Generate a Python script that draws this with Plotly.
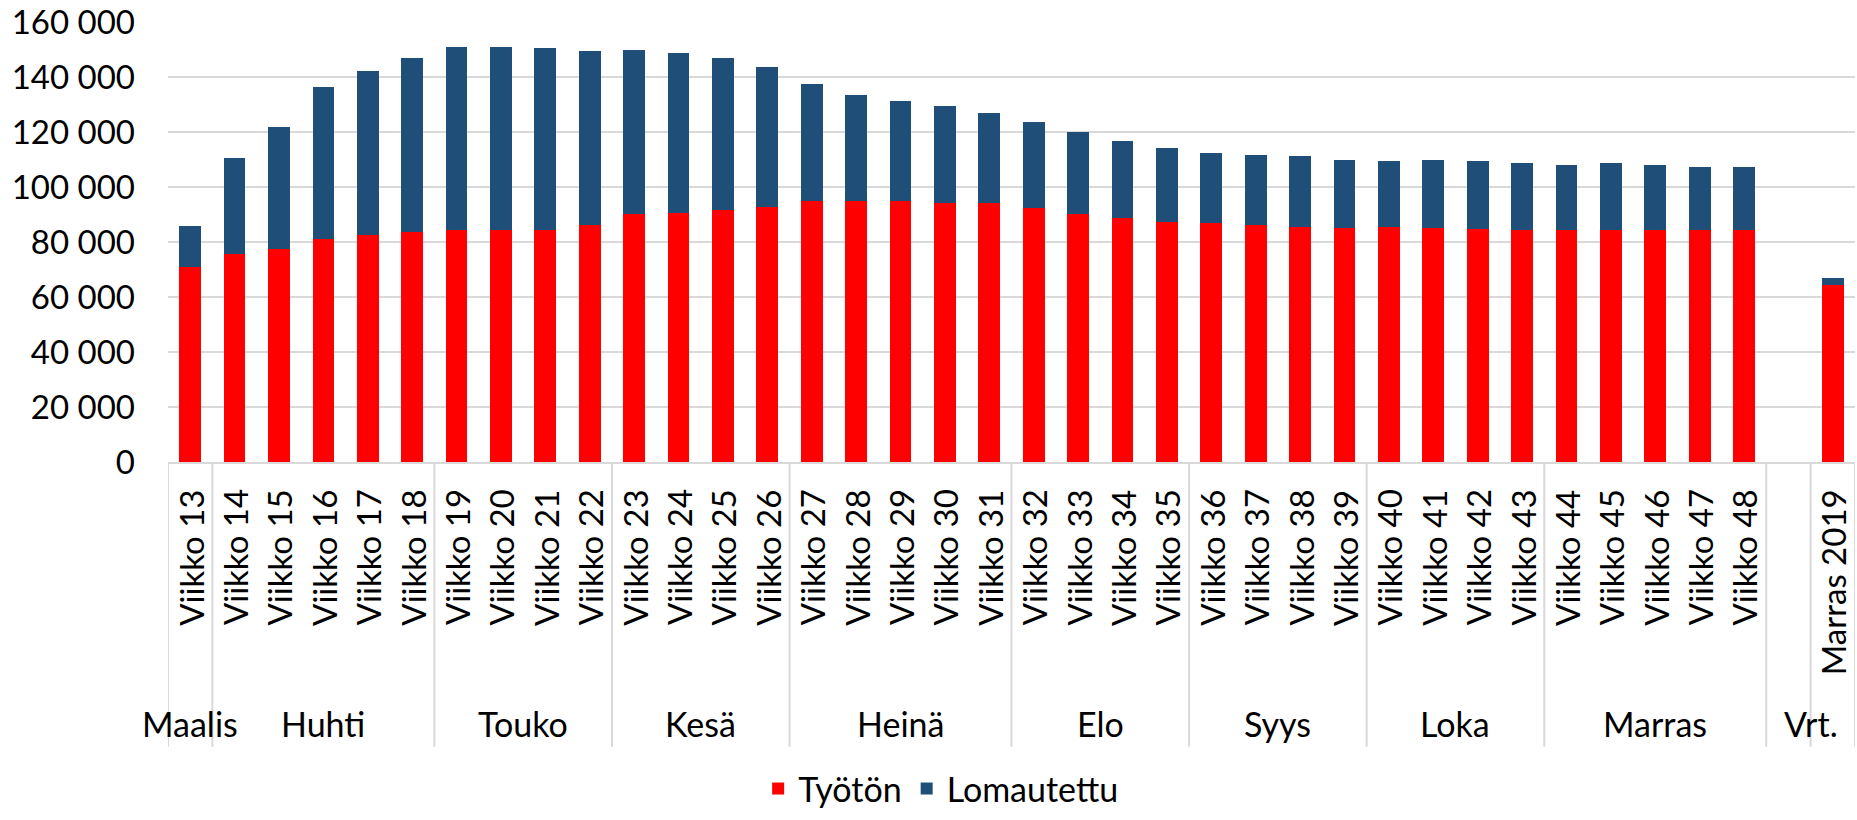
import plotly.graph_objects as go

months = ["Maalis"] + ["Huhti"] * 5 + ["Touko"] * 4 + ["Kesä"] * 4 + ["Heinä"] * 5 + \
         ["Elo"] * 4 + ["Syys"] * 4 + ["Loka"] * 4 + ["Marras"] * 5 + ["Vrt.", "Vrt."]
weeks = [f"Viikko {w}" for w in range(13, 49)] + [" ", "Marras 2019"]

tyoton = [71.0, 75.6, 77.3, 81.0, 82.4, 83.7, 84.2, 84.2, 84.2, 86.1, 90.1, 90.6, 91.5, 92.9,
          94.9, 94.9, 94.9, 94.3, 94.3, 92.4, 90.1, 88.8, 87.4, 87.0, 86.1, 85.6, 85.1, 85.6,
          85.1, 84.8, 84.2, 84.2, 84.2, 84.2, 84.2, 84.2, None, 64.4]
total = [86.0, 110.6, 121.8, 136.3, 142.3, 146.8, 151.0, 151.0, 150.5, 149.5, 150.0, 148.7, 146.8, 143.6,
         137.3, 133.6, 131.4, 129.5, 126.8, 123.6, 119.9, 116.8, 114.3, 112.5, 111.8, 111.2, 109.9, 109.3,
         109.9, 109.3, 108.9, 108.0, 108.6, 108.0, 107.4, 107.4, None, 66.8]

tyoton_v = [None if v is None else v * 1000 for v in tyoton]
lomautettu_v = [None if (t is None or r is None) else (t - r) * 1000 for t, r in zip(total, tyoton)]

FONT = "Lato"
GRID = "#d9d9d9"
idx = list(range(len(weeks)))

fig = go.Figure()
fig.add_trace(go.Bar(x=idx, y=tyoton_v, name="Työtön", marker_color="#FF0000", marker_line_width=0))
fig.add_trace(go.Bar(x=idx, y=lomautettu_v, name="Lomautettu", marker_color="#1F4E79", marker_line_width=0))

# group labels and dividers derived from the month list
groups = []
for i, m in enumerate(months):
    if not groups or groups[-1][0] != m:
        groups.append([m, i, i])
    else:
        groups[-1][2] = i

bounds = sorted({g[1] - 0.5 for g in groups} | {groups[-1][2] + 0.5} | {groups[-1][2] - 0.5})
shapes = [dict(type="line", xref="x", yref="paper", x0=b, x1=b, y0=0, y1=-0.647,
               line=dict(color=GRID, width=2)) for b in bounds]
annotations = [dict(text=g[0], xref="x", yref="paper", x=(g[1] + g[2]) / 2, y=-0.594,
                    xanchor="center", yanchor="middle", showarrow=False,
                    font=dict(family=FONT, size=34, color="#000000")) for g in groups]
# rotated week labels under each bar
annotations += [dict(text=w, xref="x", yref="paper", x=i, y=-0.058, textangle=-90,
                     xanchor="center", yanchor="top", showarrow=False,
                     font=dict(family=FONT, size=33, color="#000000"))
                for i, w in zip(idx, weeks) if w.strip()]

fig.update_layout(
    barmode="stack",
    bargap=0.51,
    width=1857, height=820,
    margin=dict(l=168, r=2, t=22, b=350),
    plot_bgcolor="white", paper_bgcolor="white",
    separators=", ",
    font=dict(family=FONT, color="#000000"),
    showlegend=True,
    legend=dict(orientation="h", traceorder="normal", x=0.458, xanchor="center", y=-0.743,
                yanchor="middle", font=dict(size=34, family=FONT, color="#000000")),
    xaxis=dict(tickmode="array", tickvals=idx, ticktext=weeks, range=[-0.5, len(weeks) - 0.5],
               showticklabels=False, showline=True, linecolor=GRID, linewidth=2, ticks="",
               showgrid=False, zeroline=False),
    yaxis=dict(range=[0, 160000], dtick=20000, tickformat=",d", showgrid=True, gridcolor=GRID,
               gridwidth=2, zeroline=False, showline=False, ticklabelstandoff=32,
               ticklabeloverflow="allow",
               tickfont=dict(size=33, family=FONT, color="#000000")),
    shapes=shapes,
    annotations=annotations,
)

fig.write_html("out.html", config={"displayModeBar": False},
               post_script="document.body.style.margin='0';document.body.style.overflow='hidden';")
